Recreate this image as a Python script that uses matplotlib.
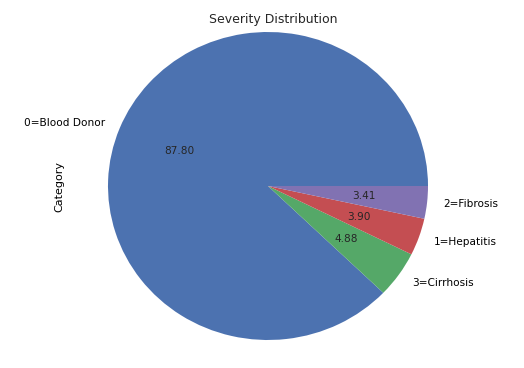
import matplotlib
matplotlib.use("Agg")
import matplotlib.pyplot as plt

# category counts (HCV data, 615 patients)
labels = ["0=Blood Donor", "3=Cirrhosis", "1=Hepatitis", "2=Fibrosis"]
counts = [540, 30, 24, 21]
colors = ["#4C72B0", "#55A868", "#C44E52", "#8172B2"]

W, H = 524, 368
fig = plt.figure(figsize=(W / 100, H / 100), dpi=100)

# circle in pixels: centre (268, 182 from bottom), rx 160, ry 154
lim = 1.1
rx, ry = 160, 154
aw, ah = 2 * rx * lim, 2 * ry * lim
ax = fig.add_axes([(268 - aw / 2) / W, (182 - ah / 2) / H, aw / W, ah / H])

wedges, texts, autotexts = ax.pie(counts, labels=labels, colors=colors,
                                  autopct="%.2f", startangle=0,
                                  textprops={"fontsize": 7.6, "color": "black"})
for t in autotexts:
    t.set_color("#262626")
ax.set_aspect("auto")
ax.set_xlim(-lim, lim)
ax.set_ylim(-lim, lim)

fig.text(273 / W, 1 - 20 / H, "Severity Distribution", ha="center", va="center",
         fontsize=9, color="#262626")
fig.text(59 / W, 1 - 187 / H, "Category", rotation=90, ha="center", va="center",
         fontsize=8, color="black")

fig.savefig("out.png", dpi=100)
